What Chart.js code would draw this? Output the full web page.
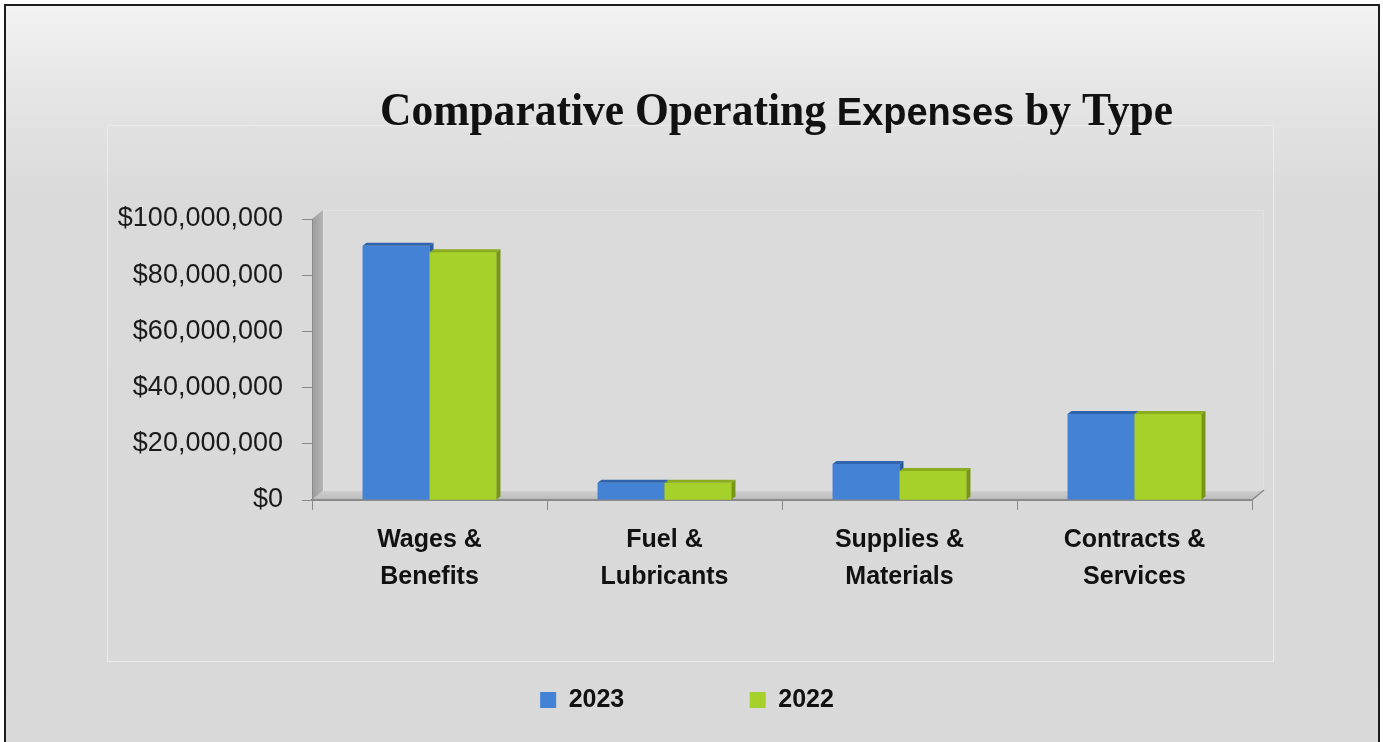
<!DOCTYPE html>
<html><head><meta charset="utf-8">
<script src="https://cdn.jsdelivr.net/npm/chart.js@4.4.1/dist/chart.umd.min.js"></script>
<style>
html,body{margin:0;padding:0;width:1383px;height:742px;overflow:hidden;background:#fff}
#frame{position:absolute;left:4px;top:4px;width:1372px;height:790px;border:2px solid #1c1c1c;background:linear-gradient(#f3f3f3 0px,#e6e6e6 80px,#dadada 190px,#d9d9d9 100%)}
#c{position:absolute;left:0;top:0}
</style></head><body>
<div id="frame"></div>
<canvas id="c" width="1383" height="742"></canvas>
<script>
// ---- data ----
const categories = [["Wages &", "Benefits"], ["Fuel &", "Lubricants"], ["Supplies &", "Materials"], ["Contracts &", "Services"]];
const seriesNames = ["2023", "2022"];
const values2023 = [90.5e6, 6.1e6, 12.8e6, 30.6e6];
const values2022 = [88.2e6, 6.1e6, 10.3e6, 30.6e6];
const yTickValues = [0, 20e6, 40e6, 60e6, 80e6, 100e6];
const titleParts = ["Comparative Operating ", "Expenses", " by Type"];

// ---- styles ----
const BLUE = {front: '#4482d5', top: '#2f63ad', side: '#2a5a9e'};
const GREEN = {front: '#a6d02a', top: '#8aac1f', side: '#779517'};
const D = {x: 11, y: 9};   // wall / floor depth
const B = {x: 4, y: 3};    // bar depth

function poly(ctx, pts, fill) {
  ctx.beginPath();
  ctx.moveTo(pts[0][0], pts[0][1]);
  for (let i = 1; i < pts.length; i++) ctx.lineTo(pts[i][0], pts[i][1]);
  ctx.closePath();
  ctx.fillStyle = fill;
  ctx.fill();
}

const deco = {
  id: 'deco',
  afterLayout(chart) {
    // let tick labels overflow their boxes without being clipped
    chart.scales.y.left = 0;
    chart.scales.x.bottom = chart.scales.x.top + 120;
  },
  beforeDraw(chart) {
    const {ctx, chartArea: a} = chart;
    ctx.save();
    // faint plot-area frame
    ctx.strokeStyle = 'rgba(236,236,236,0.9)';
    ctx.lineWidth = 1;
    ctx.strokeRect(107.5, 125.5, 1166, 536);
    // back wall
    ctx.fillStyle = '#dbdbdb';
    ctx.fillRect(a.left + D.x, a.top - D.y, a.width, a.height);
    ctx.strokeStyle = '#e2e2e2';
    ctx.strokeRect(a.left + D.x + 0.5, a.top - D.y + 0.5, a.width, a.height);
    // left side wall
    const g = ctx.createLinearGradient(a.left, 0, a.left + D.x, 0);
    g.addColorStop(0, '#9c9c9c'); g.addColorStop(1, '#b4b4b4');
    poly(ctx, [[a.left, a.top], [a.left + D.x, a.top - D.y], [a.left + D.x, a.bottom - D.y], [a.left, a.bottom]], g);
    // floor
    const f = ctx.createLinearGradient(0, a.bottom - D.y, 0, a.bottom);
    f.addColorStop(0, '#cfcfcf'); f.addColorStop(1, '#bababa');
    poly(ctx, [[a.left, a.bottom], [a.left + D.x, a.bottom - D.y], [a.right + D.x, a.bottom - D.y], [a.right, a.bottom]], f);
    ctx.strokeStyle = '#8a8a8a';
    ctx.lineWidth = 1.5;
    ctx.beginPath();
    ctx.moveTo(a.right, a.bottom); ctx.lineTo(a.right + D.x + 1, a.bottom - D.y - 1);
    ctx.stroke();
    ctx.restore();
  },
  afterDatasetsDraw(chart) {
    const ctx = chart.ctx;
    const m0 = chart.getDatasetMeta(0), m1 = chart.getDatasetMeta(1);
    const geo = (el) => {
      const p = el.getProps(['x', 'y', 'base', 'width'], true);
      return {l: p.x - p.width / 2, r: p.x + p.width / 2, t: p.y, b: p.base, w: p.width};
    };
    ctx.save();
    m0.data.forEach(el => {
      const g = geo(el);
      poly(ctx, [[g.r, g.t], [g.r + B.x, g.t - B.y], [g.r + B.x, g.b - B.y], [g.r, g.b]], BLUE.side);
    });
    m1.data.forEach(el => {
      const g = geo(el);
      ctx.fillStyle = GREEN.front;
      ctx.fillRect(g.l, g.t, g.w, g.b - g.t);
      poly(ctx, [[g.r, g.t], [g.r + B.x, g.t - B.y], [g.r + B.x, g.b - B.y], [g.r, g.b]], GREEN.side);
      poly(ctx, [[g.l, g.t], [g.l + B.x, g.t - B.y], [g.r + B.x, g.t - B.y], [g.r, g.t]], GREEN.top);
    });
    m0.data.forEach(el => {
      const g = geo(el);
      poly(ctx, [[g.l, g.t], [g.l + B.x, g.t - B.y], [g.r + B.x, g.t - B.y], [g.r, g.t]], BLUE.top);
    });
    ctx.restore();
  },
  afterDraw(chart) {
    const ctx = chart.ctx;
    ctx.save();
    const fonts = ['bold 47px "Liberation Serif"', 'bold 38px "Liberation Sans"', 'bold 47px "Liberation Serif"'];
    const targetTotal = 793;
    const widths = titleParts.map((t, i) => { ctx.font = fonts[i]; return ctx.measureText(t).width; });
    const serifW = widths[0] + widths[2];
    const k = (targetTotal - widths[1]) / serifW;
    const drawW = widths.map((w, i) => i === 1 ? w : w * k);
    let x = 776.5 - targetTotal / 2;
    ctx.fillStyle = '#111';
    ctx.textBaseline = 'alphabetic';
    ctx.textAlign = 'left';
    titleParts.forEach((t, i) => {
      ctx.font = fonts[i];
      ctx.fillText(t, x, 125, drawW[i]);
      x += drawW[i];
    });
    ctx.restore();
  }
};

new Chart(document.getElementById('c'), {
  type: 'bar',
  data: {
    labels: categories,
    datasets: [
      {label: seriesNames[0], data: values2023, backgroundColor: BLUE.front, borderWidth: 0},
      {label: seriesNames[1], data: values2022, backgroundColor: GREEN.front, borderWidth: 0}
    ]
  },
  options: {
    responsive: false,
    animation: false,
    devicePixelRatio: 1,
    layout: {padding: {left: 122, right: 131, top: 219, bottom: 19.5}},
    datasets: {bar: {categoryPercentage: 0.57, barPercentage: 1.0}},
    plugins: {
      title: {display: false},
      tooltip: {enabled: false},
      legend: {
        position: 'bottom',
        labels: {
          boxWidth: 16, boxHeight: 16, padding: 125.5,
          color: '#111',
          font: {family: '"Liberation Sans"', size: 25, weight: 'bold'}
        }
      }
    },
    scales: {
      x: {
        afterFit(s) { s.height = 62; },
        grid: {display: true, drawOnChartArea: false, drawTicks: true, tickLength: 10, color: '#8a8a8a', offset: true},
        border: {display: true, color: '#8a8a8a', width: 2},
        ticks: {padding: 11.5, color: '#111', font: {family: '"Liberation Sans"', size: 25, weight: 'bold', lineHeight: 1.48}}
      },
      y: {
        min: 0, max: 100e6,
        afterFit(s) { s.width = 190; },
        afterBuildTicks(s) { s.ticks = yTickValues.map(v => ({value: v})); },
        grid: {display: true, drawOnChartArea: false, drawTicks: true, tickLength: 10, color: '#8a8a8a'},
        border: {display: true, color: '#8a8a8a', width: 1},
        ticks: {
          padding: 19, color: '#1a1a1a',
          font: {family: '"Liberation Sans"', size: 27},
          callback: (v) => '$' + Number(v).toLocaleString('en-US')
        }
      }
    }
  },
  plugins: [deco]
});
</script>
</body></html>
